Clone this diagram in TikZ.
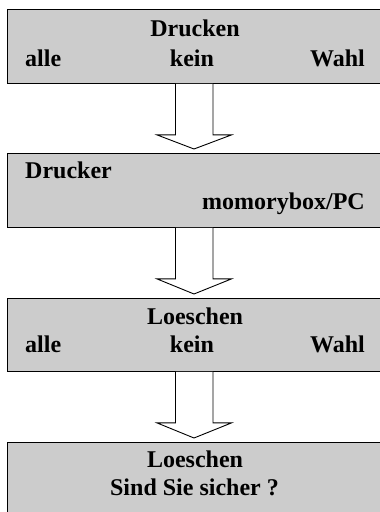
\documentclass[tikz,border=0pt]{standalone}
\usepackage{fontspec}
\setmainfont{Liberation Serif}
\usetikzlibrary{calc}
\definecolor{boxgray}{HTML}{CCCCCC}
\tikzset{
  box/.style={draw=black, fill=boxgray, line width=0.9pt, inner sep=0pt, minimum width=376pt, anchor=north west},
  lbl/.style={font=\fontsize{24}{27}\selectfont\bfseries, inner sep=0pt},
  blockarrow/.style={draw=black, fill=white, line width=0.9pt, line join=miter},
}
\begin{document}
\begin{tikzpicture}[x=1pt,y=-1pt]
\useasboundingbox (0,0) rectangle (380,512);
\clip (0,0) rectangle (380,512);
\node[box, minimum height=74pt] (b1) at (6.5,9) {};
\node[box, minimum height=74pt] (b2) at (6.5,153) {};
\node[box, minimum height=73pt] (b3) at (6.5,298) {};
\node[box, minimum height=75pt] (b4) at (6.5,442) {};

% texts box 1
\node[lbl, anchor=base] (t1a) at (195,36) {Drucken};
\node[lbl, anchor=base west] (t1b) at (25,66) {alle};
\node[lbl, anchor=base] (t1c) at (192,66) {kein};
\node[lbl, anchor=base east] (t1d) at (365,66) {Wahl};
% box 2
\node[lbl, anchor=base west] (t2a) at (25,178.5) {Drucker};
\node[lbl, anchor=base east] (t2b) at (365,209) {momorybox/PC};
% box 3
\node[lbl, anchor=base] (t3a) at (195,324) {Loeschen};
\node[lbl, anchor=base west] (t3b) at (25,352.5) {alle};
\node[lbl, anchor=base] (t3c) at (192,352.5) {kein};
\node[lbl, anchor=base east] (t3d) at (365,352.5) {Wahl};
% box 4
\node[lbl, anchor=base] (t4a) at (195,467) {Loeschen};
\node[lbl, anchor=base] (t4b) at (194.5,495) {Sind Sie sicher ?};

% block arrows between boxes
\foreach \a/\b in {b1/b2, b2/b3, b3/b4}{
  \draw[blockarrow]
    ($(\a.south west)+(169,0)$) --
    ($(\a.south west)+(169,51)$) --
    ($(\a.south west)+(150.5,51)$) --
    ($(\b.north west)+(187.5,-4)$) --
    ($(\a.south west)+(225,51)$) --
    ($(\a.south west)+(206.5,51)$) --
    ($(\a.south west)+(206.5,0)$);
}
\end{tikzpicture}
\end{document}
